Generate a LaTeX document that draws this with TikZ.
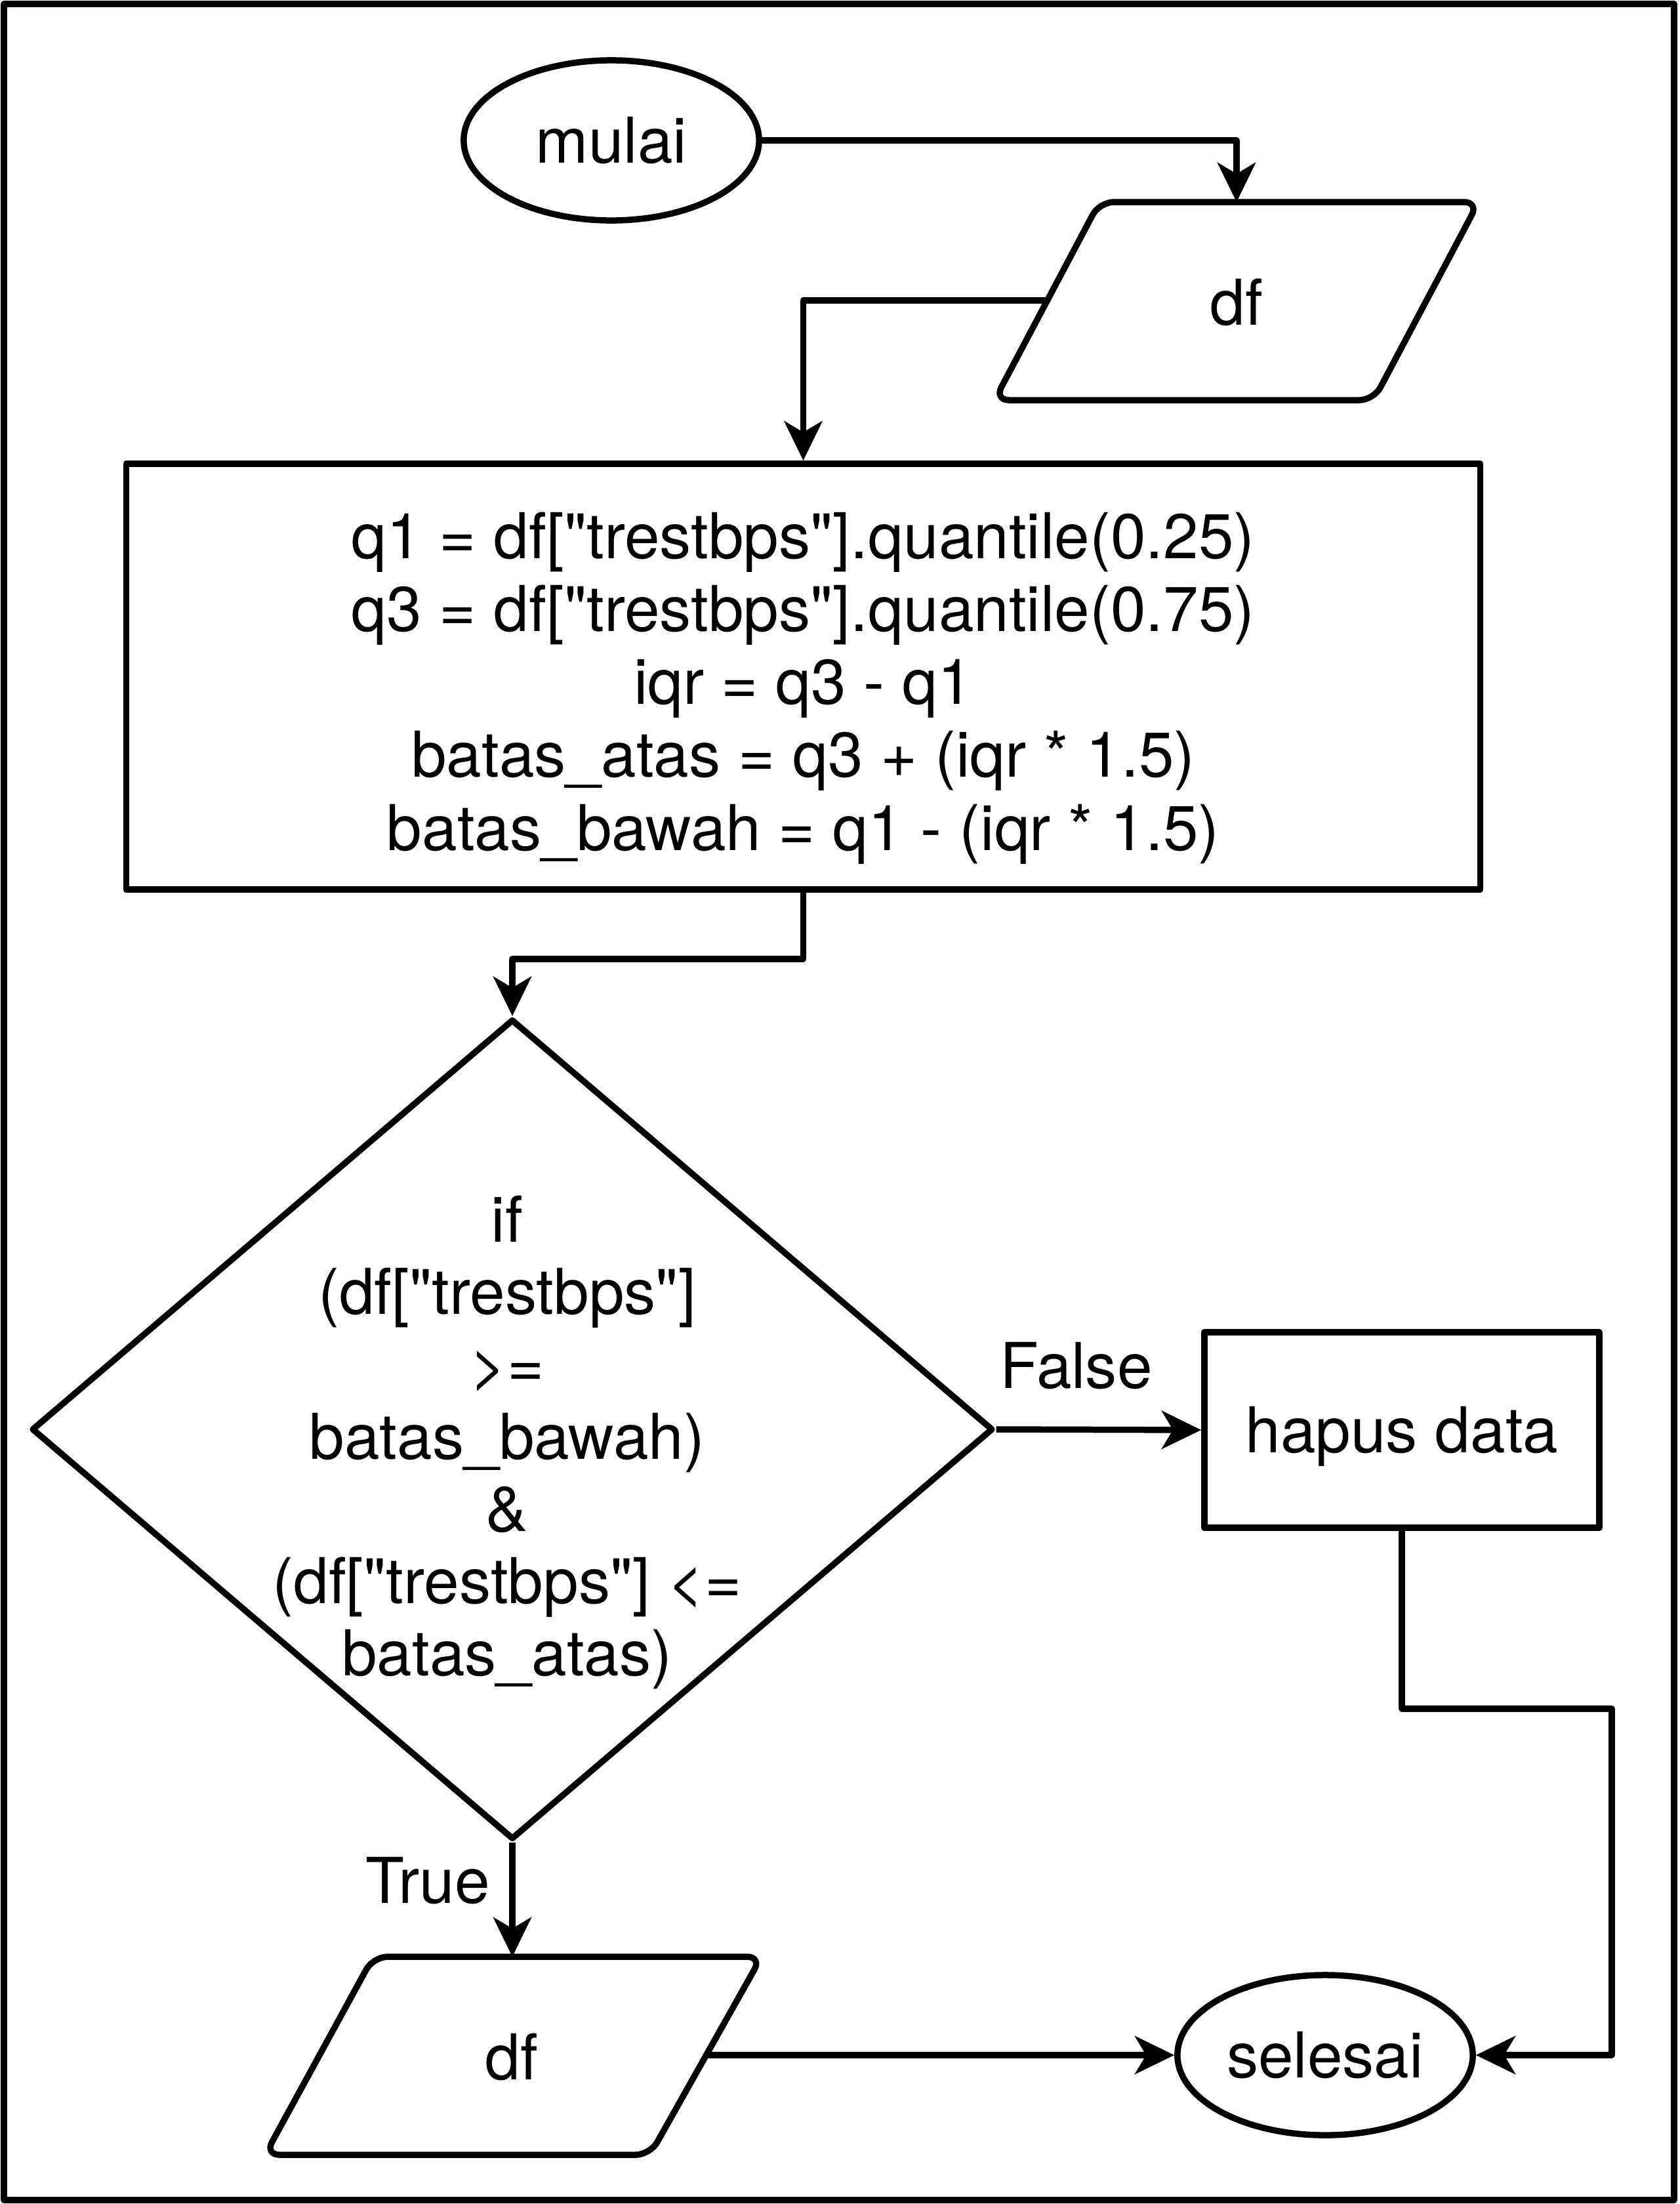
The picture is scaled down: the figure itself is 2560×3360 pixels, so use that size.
\documentclass[tikz,border=0pt]{standalone}
\usepackage{fontspec}
\setmainfont{TeX Gyre Heros}[Ligatures=TeXOff]
\usetikzlibrary{shapes.geometric,arrows.meta}
\begin{document}
\begin{tikzpicture}[x=0.01cm,y=-0.01cm,line width=2.7pt,line join=round,
  txt/.style={font=\fontsize{27.4}{31.6}\selectfont,align=center,inner sep=0pt},
  one/.style={text height=19.7pt,text depth=0pt},
  term/.style={ellipse,draw,minimum width=4.5cm,minimum height=2.44cm,inner sep=0pt,txt,one},
  proc/.style={rectangle,draw,inner sep=0pt,txt},
  decision/.style={diamond,draw,inner sep=0pt,minimum width=14.65cm,minimum height=12.5cm},
  io/.style={rounded corners=0.22cm},
  flow/.style={-{Stealth[length=0.6cm,width=0.58cm,inset=0.17cm]}},
  lbl/.style={txt,one}]
\useasboundingbox (0,0) rectangle (2560,3360);
\draw (6,6) rectangle (2552,3354);

% nodes
\node[term] (mulai) at (932,214) {mulai};

\draw[io] (1965,308) -- (2254,308) -- (2094,610) -- (1516,610) -- (1676,308) -- cycle;
\node[txt,one] (df1) at (1885,461) {df};
\coordinate (df1top) at (1885,308);
\coordinate (df1left) at (1596,458);

\node[proc,minimum width=20.63cm,minimum height=6.49cm] (proc) at (1224.5,1031.5) {};
\node[txt] (proctxt) at (1224.5,1049)
  {q1 = df["trestbps"].quantile(0.25)\\
   q3 = df["trestbps"].quantile(0.75)\\
   iqr = q3 - q1\\
   batas\_atas = q3 + (iqr * 1.5)\\
   batas\_bawah = q1 - (iqr * 1.5)};

\node[decision] (dec) at (781,2179) {};
\node[txt,font=\fontsize{27.4}{31.3}\selectfont] (dectxt) at (773,2199)
  {if\\(df["trestbps"]\\>=\\batas\_bawah)\\\&\\(df["trestbps"] <=\\batas\_atas)};

\node[proc,one,minimum width=6.02cm,minimum height=2.98cm] (hapus) at (2137,2180) {hapus data};

\draw[io] (866,2983) -- (1161,2983) -- (991,3285) -- (404,3285) -- (569,2983) -- cycle;
\node[txt,one] (df2) at (780,3136) {df};
\coordinate (df2top) at (781,2983);
\coordinate (df2right) at (1076,3133);

\node[term] (selesai) at (2020,3133) {selesai};

\coordinate (rbend) at (2457,2605);

% connectors
\draw[flow] (mulai.east) -| (df1top);
\draw[flow] (df1left) -| (proc.north);
\draw[flow] (proc.south) -- ++(0,101) -| (dec.north);
\draw[flow] (dec.east) -- (hapus.west) node[lbl,pos=0.39,yshift=0.98cm] {False};
\draw[flow] (dec.south) -- (df2top) node[lbl,pos=0.33,xshift=-1.29cm] {True};
\draw[flow] (hapus.south) |- (rbend) |- (selesai.east);
\draw[flow] (df2right) -- (selesai.west);
\end{tikzpicture}
\end{document}
